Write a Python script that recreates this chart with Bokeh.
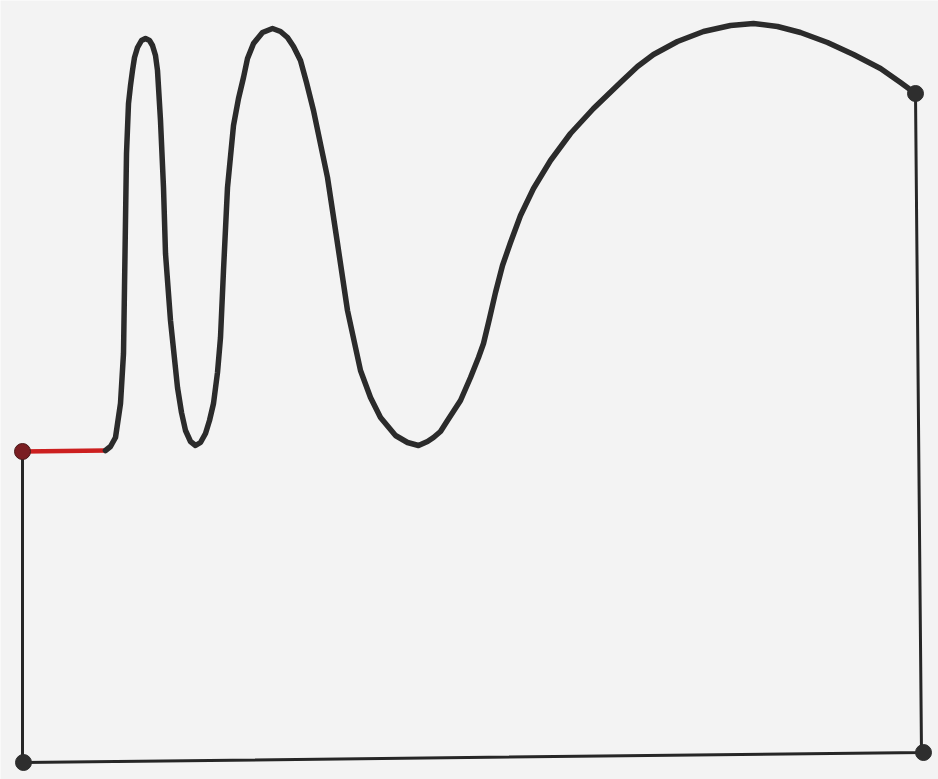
from bokeh.plotting import figure
from bokeh.models import Range1d
from bokeh.embed import file_html
from bokeh.resources import INLINE

# traced curve (screen-like coordinates, y grows downward)
curve_x = [105, 110, 115, 120, 123, 124, 125, 126, 128, 130, 132, 134, 137, 141, 145, 149, 152, 155, 157, 160,
           163, 165, 170, 177, 181, 185, 190, 195, 200, 205, 209, 213, 217, 220, 223, 227, 233, 238, 243, 247,
           253, 262, 272, 280, 287, 293, 300, 306, 313, 327, 337, 347, 360, 370, 380, 395, 407, 418, 427, 433,
           440, 447, 460, 470, 478, 483, 489, 495, 502, 510, 520, 533, 550, 570, 593, 620, 637, 653, 677, 703,
           730, 753, 777, 800, 827, 853, 880, 900, 915]
curve_y = [450, 446, 437, 403, 353, 287, 220, 153, 103, 85, 70, 57, 47, 40, 38, 40, 45, 55, 70, 120,
           187, 253, 320, 387, 412, 430, 441, 445, 442, 433, 420, 403, 372, 337, 270, 187, 125, 98, 77, 58,
           43, 32, 28, 31, 37, 46, 60, 82, 110, 177, 243, 310, 370, 397, 417, 435, 442, 445, 441, 437,
           431, 420, 400, 377, 357, 343, 318, 292, 265, 242, 215, 188, 160, 133, 108, 82, 66, 54, 41, 31,
           25, 23, 26, 32, 42, 54, 68, 82, 93]

# frame segments: right side, bottom, left side
frame_x = [915, 921, 923, 23, 22, 22]
frame_y = [93, 752, 752, 762, 762, 451]

# red start segment
red_x = [22, 105]
red_y = [451, 450]

# corner points
dot_x = [915, 923, 23]
dot_y = [93, 752, 762]
start_x = [22]
start_y = [451]

BG = "#f3f3f3"
p = figure(width=938, height=779, output_backend="svg", toolbar_location=None,
           x_range=Range1d(0, 938), y_range=Range1d(779, 0), min_border=0)
p.axis.visible = False
p.grid.visible = False
p.outline_line_color = None
p.background_fill_color = BG
p.border_fill_color = BG

p.line(frame_x, frame_y, line_color="#262626", line_width=3, line_join="round")
p.line(red_x, red_y, line_color="#cc1f1f", line_width=4.5)
p.line(curve_x, curve_y, line_color="#2b2b2b", line_width=5.5, line_join="round", line_cap="round")
p.scatter(dot_x, dot_y, size=16, fill_color="#2e2e2e", line_color="#2e2e2e")
p.scatter(start_x, start_y, size=16, fill_color="#7a1e22", line_color="#4a1a1a")

html = file_html(p, INLINE)
html = html.replace("<body>", '<body style="background:%s">' % BG, 1)
open("out.html", "w").write(html)
